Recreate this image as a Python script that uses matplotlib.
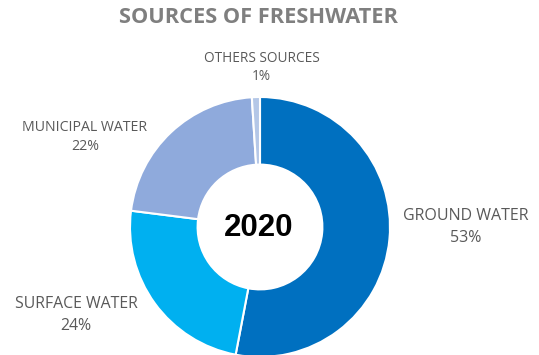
import matplotlib.pyplot as plt

# данные
labels = ['GROUND WATER', 'SURFACE WATER', 'MUNICIPAL WATER', 'OTHERS SOURCES']
values = [53, 24, 22, 1]
colors = ['#0070C0', '#00B0F0', '#8FAADC', '#B4C7E7']
# центры подписей в пикселях: x, y названия, y процента
label_px = [(466, 216, 238), (76, 304.5, 326), (85, 127.5, 146), (261.5, 59, 77)]
label_size = [11.5, 11.4, 10.2, 9.8]

W, H = 539, 355
R = 130.0  # радиус в пикселях
cx, cy = 260, 227


def to_data(px, py):
    return (px - cx) / R, (cy - py) / R


plt.rcParams['font.family'] = ['Open Sans', 'DejaVu Sans']
fig = plt.figure(figsize=(W / 100, H / 100), dpi=100)
ax = fig.add_axes([0, 0, 1, 1])
ax.pie(values, colors=colors, startangle=90, counterclock=False, radius=1,
       wedgeprops=dict(width=0.52, edgecolor='white', linewidth=1.5))
ax.set_xlim(-cx / R, (W - cx) / R)
ax.set_ylim(-(H - cy) / R, cy / R)
ax.set_aspect('equal')
ax.axis('off')

for lab, v, (px, py1, py2), fs in zip(labels, values, label_px, label_size):
    x, y1 = to_data(px, py1)
    _, y2 = to_data(px, py2)
    ax.text(x, y1, lab, ha='center', va='center', fontsize=fs, color='#595959')
    ax.text(x, y2, f'{v}%', ha='center', va='center', fontsize=fs, color='#595959')

x0, y0 = to_data(258.5, 228.5)
ax.text(x0, y0, '2020', ha='center', va='center', fontsize=22.5, fontweight='bold',
        color='black', family='Liberation Sans')
fig.text(258.5 / W, 1 - 17.5 / H, 'SOURCES OF FRESHWATER', ha='center', va='center',
         fontsize=15.7, fontweight='bold', color='#7F7F7F')

fig.savefig('out.png', dpi=100)
